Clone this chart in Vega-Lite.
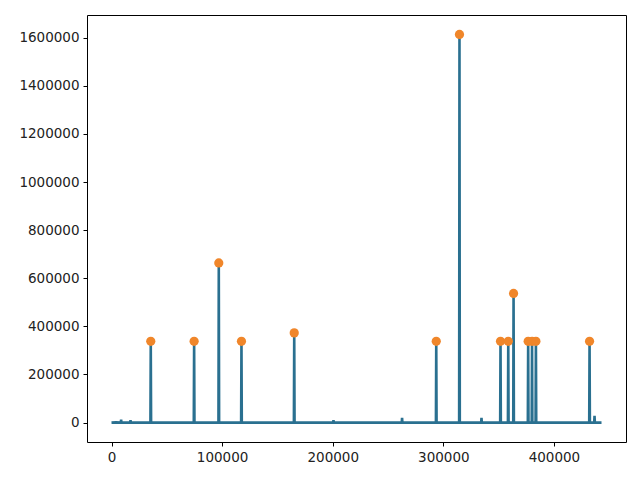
{
  "$schema": "https://vega.github.io/schema/vega-lite/v6.json",
  "autosize": {"type": "none"},
  "width": 539,
  "height": 427,
  "padding": {"left": 87, "top": 15, "right": 14, "bottom": 38},
  "background": "white",
  "config": {
    "view": {"stroke": "#000", "strokeWidth": 1},
    "axis": {
      "domain": false, "grid": false, "ticks": true, "tickColor": "#000", "tickSize": 4,
      "labelFont": "DejaVu Sans", "labelFontSize": 13.5, "labelColor": "#222", "labelPadding": 4, "title": null
    }
  },
  "datasets": {
    "series": [
      {"x": 0, "y": 0}, {"x": 4000, "y": 1000}, {"x": 8400, "y": 0}, {"x": 8700, "y": 12000}, {"x": 9000, "y": 0},
      {"x": 12000, "y": 0}, {"x": 16900, "y": 0}, {"x": 17200, "y": 10000}, {"x": 17500, "y": 0}, {"x": 25000, "y": 0},
      {"x": 35200, "y": 0}, {"x": 35500, "y": 338000}, {"x": 35800, "y": 0}, {"x": 50000, "y": 0},
      {"x": 74400, "y": 0}, {"x": 74700, "y": 338000}, {"x": 75000, "y": 0}, {"x": 85000, "y": 0},
      {"x": 96700, "y": 0}, {"x": 97000, "y": 664000}, {"x": 97300, "y": 0},
      {"x": 117200, "y": 0}, {"x": 117500, "y": 338000}, {"x": 117800, "y": 0}, {"x": 140000, "y": 0},
      {"x": 164900, "y": 0}, {"x": 165200, "y": 373000}, {"x": 165500, "y": 0}, {"x": 180000, "y": 0},
      {"x": 200400, "y": 0}, {"x": 200700, "y": 10000}, {"x": 201000, "y": 0}, {"x": 230000, "y": 0},
      {"x": 262400, "y": 0}, {"x": 262700, "y": 20000}, {"x": 263000, "y": 0}, {"x": 280000, "y": 0},
      {"x": 293300, "y": 0}, {"x": 293600, "y": 338000}, {"x": 293900, "y": 0},
      {"x": 314300, "y": 0}, {"x": 314600, "y": 1614000}, {"x": 314900, "y": 0},
      {"x": 334200, "y": 0}, {"x": 334500, "y": 20000}, {"x": 334800, "y": 0}, {"x": 345000, "y": 0},
      {"x": 351400, "y": 0}, {"x": 351700, "y": 338000}, {"x": 352000, "y": 0},
      {"x": 358400, "y": 0}, {"x": 358700, "y": 338000}, {"x": 359000, "y": 0},
      {"x": 363200, "y": 0}, {"x": 363500, "y": 537000}, {"x": 363800, "y": 0},
      {"x": 376400, "y": 0}, {"x": 376700, "y": 338000}, {"x": 377000, "y": 0},
      {"x": 379900, "y": 0}, {"x": 380200, "y": 338000}, {"x": 380500, "y": 0},
      {"x": 383400, "y": 0}, {"x": 383700, "y": 338000}, {"x": 384000, "y": 0},
      {"x": 420000, "y": 0}, {"x": 428000, "y": 0},
      {"x": 431900, "y": 0}, {"x": 432200, "y": 338000}, {"x": 432500, "y": 0},
      {"x": 436400, "y": 0}, {"x": 436700, "y": 28000}, {"x": 437000, "y": 0},
      {"x": 440000, "y": 0}, {"x": 443000, "y": 0}
    ],
    "peaks": [
      {"x": 35500, "y": 338000}, {"x": 74700, "y": 338000}, {"x": 97000, "y": 664000}, {"x": 117500, "y": 338000},
      {"x": 165200, "y": 373000}, {"x": 293600, "y": 338000}, {"x": 314600, "y": 1614000}, {"x": 351700, "y": 338000},
      {"x": 358700, "y": 338000}, {"x": 363500, "y": 537000}, {"x": 376700, "y": 338000}, {"x": 380200, "y": 338000},
      {"x": 383700, "y": 338000}, {"x": 432200, "y": 338000}
    ]
  },
  "layer": [
    {
      "data": {"name": "series"},
      "mark": {"type": "line", "color": "#2a7090", "strokeWidth": 2.6, "strokeJoin": "miter", "clip": true},
      "encoding": {
        "x": {"field": "x", "type": "quantitative", "scale": {"domain": [-22150, 465150], "nice": false, "zero": false},
              "axis": {"values": [0, 100000, 200000, 300000, 400000], "format": "d"}},
        "y": {"field": "y", "type": "quantitative", "scale": {"domain": [-80700, 1694700], "nice": false, "zero": false},
              "axis": {"values": [0, 200000, 400000, 600000, 800000, 1000000, 1200000, 1400000, 1600000], "format": "d"}}
      }
    },
    {
      "data": {"name": "peaks"},
      "mark": {"type": "point", "shape": "circle", "filled": true, "color": "#f0862a", "opacity": 1, "size": 85},
      "encoding": {
        "x": {"field": "x", "type": "quantitative"},
        "y": {"field": "y", "type": "quantitative"}
      }
    }
  ]
}
